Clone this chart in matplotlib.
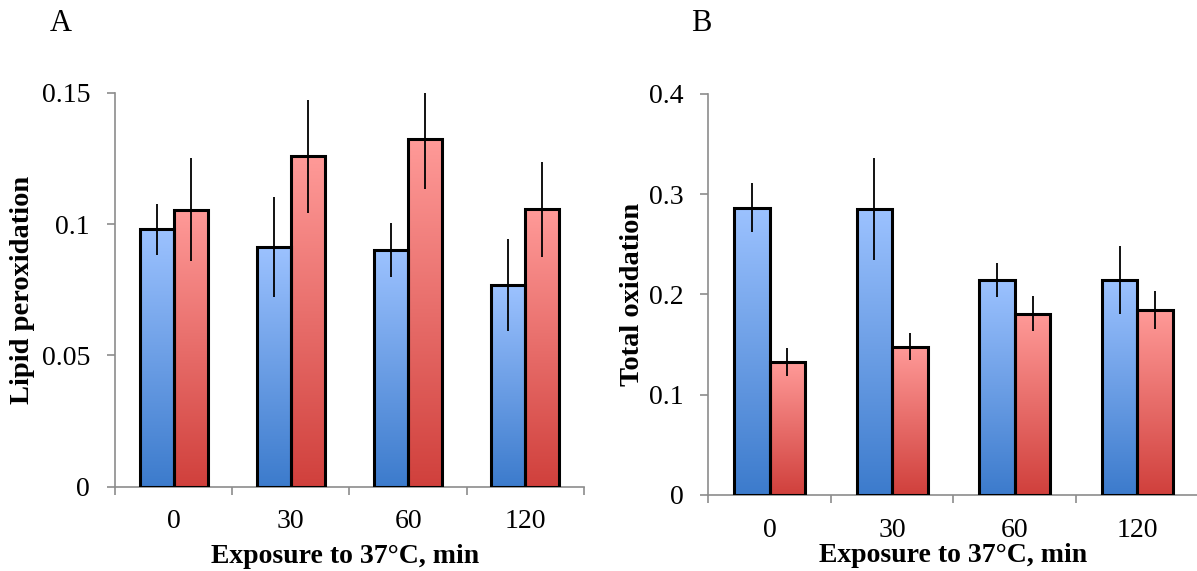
import numpy as np
import matplotlib.pyplot as plt
from matplotlib.colors import to_rgb

# ─── DATA ────────────────────────────────────────
tempos = ['0', '30', '60', '120']

lipid_azul = [0.098, 0.0914, 0.0901, 0.0768]
lipid_azul_err = [0.0097, 0.019, 0.0102, 0.0177]
lipid_verm = [0.1055, 0.1258, 0.1324, 0.1056]
lipid_verm_err = [0.0195, 0.0216, 0.019, 0.018]

total_azul = [0.2865, 0.2855, 0.2145, 0.2145]
total_azul_err = [0.0245, 0.051, 0.017, 0.0335]
total_verm = [0.1324, 0.148, 0.181, 0.1842]
total_verm_err = [0.0138, 0.0134, 0.0175, 0.019]

# ─── STYLE ───────────────────────────────────────
plt.rcParams['font.family'] = ['Liberation Serif', 'DejaVu Serif']
AZUL = ('#9cc2ff', '#3c7bcc')   # top, bottom
VERM = ('#ff9a98', '#d0403c')
CINZA = '#8c8c8c'
LARG = 0.29


def gradiente(ax, x0, h, cores):
    topo, base = np.array(to_rgb(cores[0])), np.array(to_rgb(cores[1]))
    t = np.linspace(0, 1, 200)[:, None, None]
    img = topo * (1 - t) + base * t
    ax.imshow(img, extent=(x0, x0 + LARG, 0, h), aspect='auto',
              origin='upper', zorder=2, interpolation='bilinear')
    ax.bar(x0, h, LARG, align='edge', facecolor='none',
           edgecolor='black', linewidth=2.2, zorder=3)


def painel(ax, azul, azul_err, verm, verm_err, ymax, passo, ylabel,
           ylab_x, xlab_x, xlab_y, xpad):
    x = np.arange(len(tempos))
    for i in range(len(tempos)):
        gradiente(ax, x[i] - LARG, azul[i], AZUL)
        gradiente(ax, x[i], verm[i], VERM)
    ax.errorbar(x - LARG / 2, azul, yerr=azul_err, fmt='none',
                ecolor='black', elinewidth=1.3, capsize=0, zorder=4)
    ax.errorbar(x + LARG / 2, verm, yerr=verm_err, fmt='none',
                ecolor='black', elinewidth=1.3, capsize=0, zorder=4)

    ax.set_xlim(-0.5, len(tempos) - 0.5)
    ax.set_ylim(0, ymax)
    ax.set_yticks(np.arange(0, ymax + passo / 2, passo))
    ax.set_yticklabels([f'{v:g}' for v in np.arange(0, ymax + passo / 2, passo)])
    ax.set_xticks(x)
    ax.set_xticklabels(tempos)
    ax.set_xticks(np.arange(-0.5, len(tempos)), minor=True)

    for s in ['top', 'right']:
        ax.spines[s].set_visible(False)
    for s in ['left', 'bottom']:
        ax.spines[s].set_color(CINZA)
        ax.spines[s].set_linewidth(1.2)
        ax.spines[s].set_clip_on(False)

    ax.tick_params(axis='x', which='major', length=0, pad=xpad, labelsize=20)
    ax.tick_params(axis='x', which='minor', length=6, width=1.2,
                   color=CINZA, direction='out')
    ax.tick_params(axis='y', length=6, width=1.2, color=CINZA,
                   direction='out', pad=12, labelsize=20)

    ax.set_ylabel(ylabel, fontsize=20.5, fontweight='bold', va='center')
    ax.yaxis.set_label_coords(ylab_x, 0.5)
    ax.set_xlabel('Exposure to 37°C, min', fontsize=20,
                  fontweight='bold', va='center')
    ax.xaxis.set_label_coords(xlab_x, xlab_y)


fig = plt.figure(figsize=(11.97, 5.71), dpi=100)
axA = fig.add_axes([0.0961, 0.1476, 0.3917, 0.690])
axB = fig.add_axes([0.5917, 0.1331, 0.4097, 0.7023])

painel(axA, lipid_azul, lipid_azul_err, lipid_verm, lipid_verm_err,
       0.15, 0.05, 'Lipid peroxidation', -0.197, 0.49, -0.178, 16)
painel(axB, total_azul, total_azul_err, total_verm, total_verm_err,
       0.4, 0.1, 'Total oxidation', -0.154, 0.5, -0.15, 16.5)

fig.text(0.051, 0.9580, 'A', fontsize=22, ha='center', va='center')
fig.text(0.5856, 0.9580, 'B', fontsize=22, ha='center', va='center')

plt.savefig('out.png', dpi=100)
